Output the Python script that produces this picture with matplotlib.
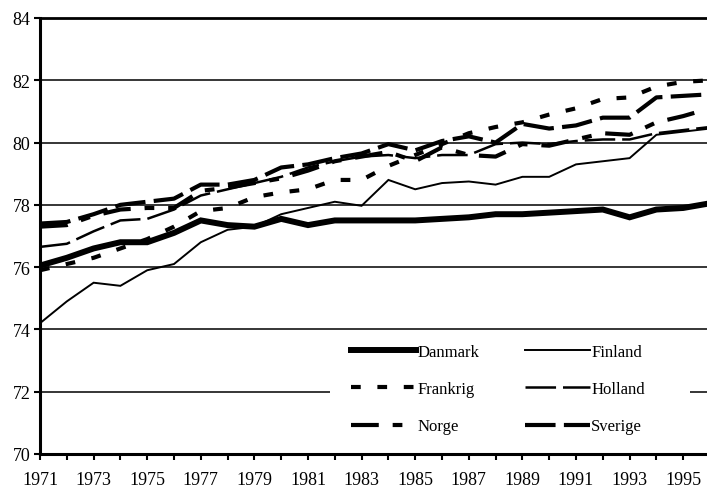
import matplotlib
matplotlib.use("Agg")
import matplotlib.pyplot as plt
from matplotlib.patches import Rectangle

years = list(range(1971, 1997))

danmark = [76.05, 76.3, 76.6, 76.8, 76.8, 77.1, 77.5, 77.35, 77.3, 77.55, 77.35, 77.5, 77.5,
           77.5, 77.5, 77.55, 77.6, 77.7, 77.7, 77.75, 77.8, 77.85, 77.6, 77.85, 77.9, 78.05]
finland = [74.2, 74.9, 75.5, 75.4, 75.9, 76.1, 76.8, 77.2, 77.3, 77.7, 77.9, 78.1, 77.97,
           78.8, 78.5, 78.7, 78.75, 78.65, 78.9, 78.9, 79.3, 79.4, 79.5, 80.25, 80.35, 80.45]
frankrig = [75.9, 76.1, 76.3, 76.6, 76.9, 77.3, 77.8, 77.9, 78.25, 78.4, 78.5, 78.8, 78.8,
            79.25, 79.6, 79.95, 80.3, 80.5, 80.65, 80.9, 81.1, 81.4, 81.45, 81.8, 81.95, 82.0]
holland = [76.65, 76.75, 77.15, 77.5, 77.55, 77.85, 78.3, 78.5, 78.7, 78.9, 79.2, 79.4, 79.55,
           79.6, 79.5, 79.6, 79.6, 79.95, 80.0, 79.95, 80.05, 80.1, 80.1, 80.3, 80.4, 80.5]
norge = [77.3, 77.35, 77.65, 77.85, 77.9, 77.9, 78.45, 78.55, 78.7, 78.85, 79.1, 79.4, 79.55,
         79.7, 79.4, 79.85, 79.6, 79.55, 79.95, 79.9, 80.1, 80.3, 80.25, 80.65, 80.85, 81.1]
sverige = [77.4, 77.45, 77.7, 78.0, 78.1, 78.2, 78.65, 78.65, 78.8, 79.2, 79.3, 79.5, 79.65,
           79.95, 79.75, 80.05, 80.2, 80.0, 80.6, 80.45, 80.55, 80.8, 80.8, 81.45, 81.5, 81.55]

series_names = ["Danmark", "Finland", "Frankrig", "Holland", "Norge", "Sverige"]
yticks = [70, 72, 74, 76, 78, 80, 82, 84]

plt.rcParams['font.family'] = ['Liberation Serif', 'DejaVu Serif']
plt.rcParams['lines.scale_dashes'] = False

fig = plt.figure(figsize=(7.07, 4.89), dpi=100)
ax = fig.add_axes([40 / 707, 34 / 489, 670 / 707, 436 / 489])

for yv in yticks[1:-1]:
    ax.axhline(yv, color='black', lw=1.1, zorder=1)

# white background of the legend area (covers the gridline behind it)
ax.add_patch(Rectangle((330 / 707, 1 - 452 / 489), 360 / 707, 119 / 489,
                       transform=fig.transFigure, facecolor='white', edgecolor='none',
                       zorder=2))

styles = {
    "Danmark": dict(lw=4.3, ls='-'),
    "Finland": dict(lw=1.4, ls='-'),
    "Frankrig": dict(lw=3.0, ls=(0, (7, 12))),
    "Holland": dict(lw=1.8, ls=(0, (22, 5))),
    "Norge": dict(lw=3.0, ls=(0, (20, 10, 7, 10))),
    "Sverige": dict(lw=3.0, ls=(0, (22, 6))),
}
data = {"Danmark": danmark, "Finland": finland, "Frankrig": frankrig,
        "Holland": holland, "Norge": norge, "Sverige": sverige}
handles = {}
for name in series_names:
    st = styles[name]
    h, = ax.plot(years, data[name], color='black', lw=st['lw'], linestyle=st['ls'],
                 label=name, zorder=3, solid_joinstyle='miter', dash_capstyle='butt')
    handles[name] = h

ax.set_xlim(1971, 1996)
ax.set_ylim(70, 84)
ax.set_yticks(yticks)
ax.set_yticklabels([str(v) for v in yticks])
ax.set_xticks(range(1971, 1997))
ax.set_xticklabels([str(y) if (y - 1971) % 2 == 0 else '' for y in range(1971, 1997)])
ax.tick_params(axis='both', labelsize=13, direction='out', length=4, width=1.5, color='black')
ax.tick_params(axis='x', pad=8)
ax.tick_params(axis='y', pad=3)

ax.spines['right'].set_visible(False)
ax.spines['top'].set_linewidth(2.0)
ax.spines['left'].set_linewidth(2.2)
ax.spines['bottom'].set_linewidth(2.2)

order = ["Danmark", "Frankrig", "Norge", "Finland", "Holland", "Sverige"]
leg = ax.legend([handles[n] for n in order], order, ncol=2,
                loc='upper left', bbox_to_anchor=(351 / 707, 1 - 345 / 489),
                bbox_transform=fig.transFigure,
                frameon=False, borderaxespad=0, borderpad=0,
                fontsize=12, handlelength=3.9, handletextpad=0.1,
                columnspacing=2.7, labelspacing=1.27)
leg.set_zorder(5)

fig.savefig("out.png", dpi=100)
